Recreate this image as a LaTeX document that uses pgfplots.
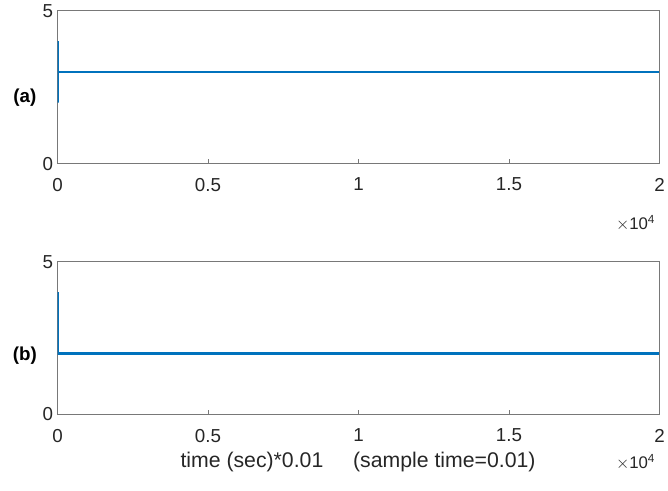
\documentclass[border=0pt]{standalone}
\usepackage{pgfplots}
\pgfplotsset{compat=1.18}
\usepackage{fontspec}
\setmainfont{Liberation Sans}
\definecolor{mblue}{RGB}{0,114,189}
\definecolor{axgray}{RGB}{120,120,120}
\pgfplotsset{
  myax/.style={
    scale only axis, width=607bp, height=154bp,
    xmin=0, xmax=20000, ymin=0, ymax=5,
    scaled x ticks=false,
    xtick={0,5000,10000,15000,20000},
    xticklabels={0,0.5,1,1.5,2},
    ytick={0,5}, yticklabels={0,5},
    xtick pos=left, ytick pos=left,
    tick align=inside,
    major tick length=5bp,
    axis line style={axgray, line width=0.9bp},
    tick style={axgray, line width=0.9bp},
    ticklabel style={font=\fontsize{19}{22}\selectfont, text=black!85},
    xticklabel style={yshift=-11bp},
    yticklabel style={xshift=-1bp},
    anchor=south west,
  }
}
\begin{document}
\begin{tikzpicture}
\path (0bp,0bp) rectangle (668bp,495bp);
\begin{axis}[myax, at={(58bp,330bp)}]
\addplot[mblue, line width=2.2bp] coordinates {(0,4) (0,2) (0,3) (20000,3)};
\end{axis}
\begin{axis}[myax, at={(58bp,77bp)}]
\addplot[mblue, line width=2.2bp] coordinates {(0,4) (0,2) (0,2) (20000,2)};
\end{axis}
\node[font=\fontsize{19}{22}\selectfont\bfseries] at (25bp,397bp) {(a)};
\node[font=\fontsize{19}{22}\selectfont\bfseries] at (25bp,136bp) {(b)};
\node[font=\fontsize{17}{20}\selectfont, text=black!85, anchor=east] at (664bp,270bp) {$\times$10\textsuperscript{4}};
\node[font=\fontsize{17}{20}\selectfont, text=black!85, anchor=east] at (664bp,29bp) {$\times$10\textsuperscript{4}};
\node[font=\fontsize{21.5}{24}\selectfont, text=black!85] at (361bp,29bp) {time (sec)*0.01\hspace{30bp}(sample time=0.01)};
\end{tikzpicture}
\end{document}
